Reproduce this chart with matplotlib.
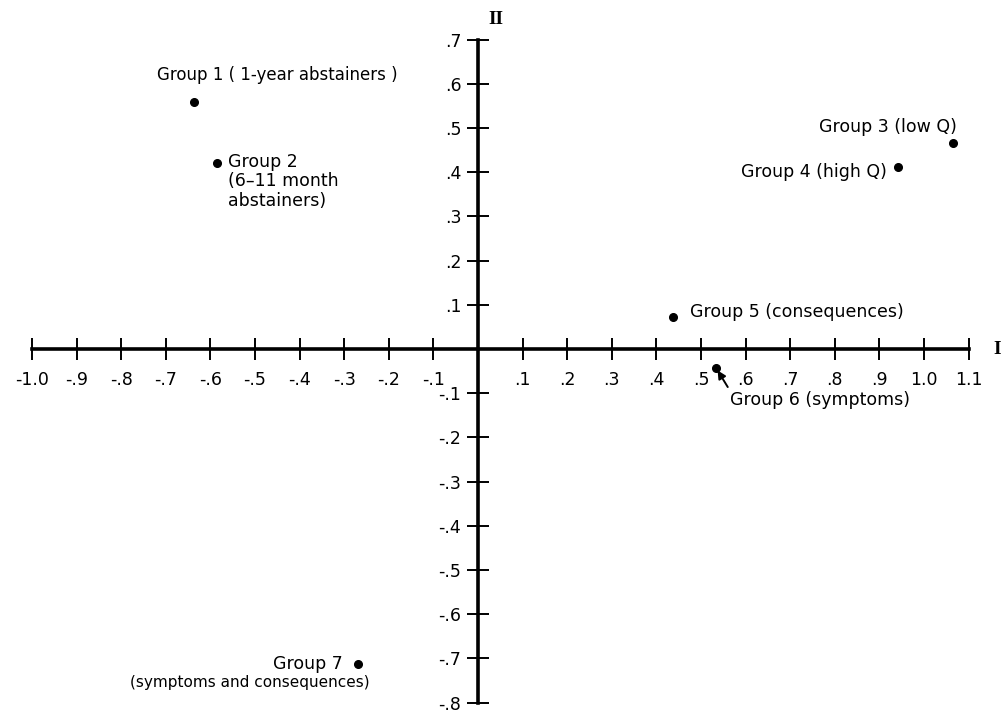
import numpy as np
import matplotlib
matplotlib.use('Agg')
import matplotlib.pyplot as plt

# Group coordinates on dimensions I and II
groups = ['Group 1 ( 1-year abstainers )',
          'Group 2\n(6\u201311 month\nabstainers)',
          'Group 3 (low Q)',
          'Group 4 (high Q)',
          'Group 5 (consequences)',
          'Group 6 (symptoms)',
          'Group 7']
dim1 = [-0.637, -0.585, 1.064, 0.942, 0.437, 0.534, -0.269]
dim2 = [0.559, 0.421, 0.467, 0.412, 0.072, -0.043, -0.713]

x_ticks = [-1.0, -0.9, -0.8, -0.7, -0.6, -0.5, -0.4, -0.3, -0.2, -0.1,
           0.1, 0.2, 0.3, 0.4, 0.5, 0.6, 0.7, 0.8, 0.9, 1.0, 1.1]
x_labels = ['-1.0', '-.9', '-.8', '-.7', '-.6', '-.5', '-.4', '-.3', '-.2', '-.1',
            '.1', '.2', '.3', '.4', '.5', '.6', '.7', '.8', '.9', '1.0', '1.1']
y_ticks = [0.7, 0.6, 0.5, 0.4, 0.3, 0.2, 0.1,
           -0.1, -0.2, -0.3, -0.4, -0.5, -0.6, -0.7, -0.8]
y_labels = ['.7', '.6', '.5', '.4', '.3', '.2', '.1',
            '-.1', '-.2', '-.3', '-.4', '-.5', '-.6', '-.7', '-.8']

plt.rcParams['font.family'] = ['DejaVu Sans']

fig = plt.figure(figsize=(10.05, 7.13), dpi=100)
ax = fig.add_axes([0, 0, 1, 1])
ax.set_xlim(-478 / 446, (1005 - 478) / 446)
ax.set_ylim((349 - 713) / 442, 349 / 442)

# axes crossing at the origin
for side in ['top', 'right']:
    ax.spines[side].set_visible(False)
ax.spines['bottom'].set_position(('data', 0))
ax.spines['left'].set_position(('data', 0))
ax.spines['bottom'].set_bounds(-1.0, 1.1)
ax.spines['left'].set_bounds(-0.8, 0.7)
for side in ['bottom', 'left']:
    ax.spines[side].set_linewidth(2.6)

ax.set_xticks(x_ticks)
ax.set_xticklabels(x_labels)
ax.set_yticks(y_ticks)
ax.set_yticklabels(y_labels)
ax.tick_params(axis='x', direction='inout', length=16, width=1.4, pad=8, labelsize=12.5)
ax.tick_params(axis='y', direction='inout', length=16, width=1.4, pad=4, labelsize=12.5)

ax.plot(dim1, dim2, 'o', color='black', markersize=5.5, zorder=5)

# label offsets in pixels from each point
offsets = [(-37, 27), (11, 10), (4, 16), (-11, -5), (17, 5), (14, -32), (-15, 0)]
has = ['left', 'left', 'right', 'right', 'left', 'left', 'right']
vas = ['center', 'top', 'center', 'center', 'center', 'center', 'center']
sizes = [12, 12.5, 12.5, 12.5, 12.5, 12.5, 12.5]
for i, name in enumerate(groups):
    kw = {}
    if i == 5:
        kw['arrowprops'] = dict(arrowstyle='-|>', color='black', lw=1.4,
                                mutation_scale=12, relpos=(0, 1), shrinkA=1, shrinkB=2)
    ax.annotate(name, (dim1[i], dim2[i]), xytext=offsets[i], textcoords='offset pixels',
                ha=has[i], va=vas[i], fontsize=sizes[i], linespacing=1.1, **kw)

ax.annotate('(symptoms and consequences)', (dim1[6], dim2[6]), xytext=(12, -18),
            textcoords='offset pixels', ha='right', va='center', fontsize=11)

ax.text(1.165, 0, 'I', ha='center', va='center', fontsize=14,
        family='Liberation Serif', fontweight='bold')
ax.text(0.04, 0.745, 'II', ha='center', va='center', fontsize=14,
        family='Liberation Serif', fontweight='bold')

fig.savefig('out.png', dpi=100)
